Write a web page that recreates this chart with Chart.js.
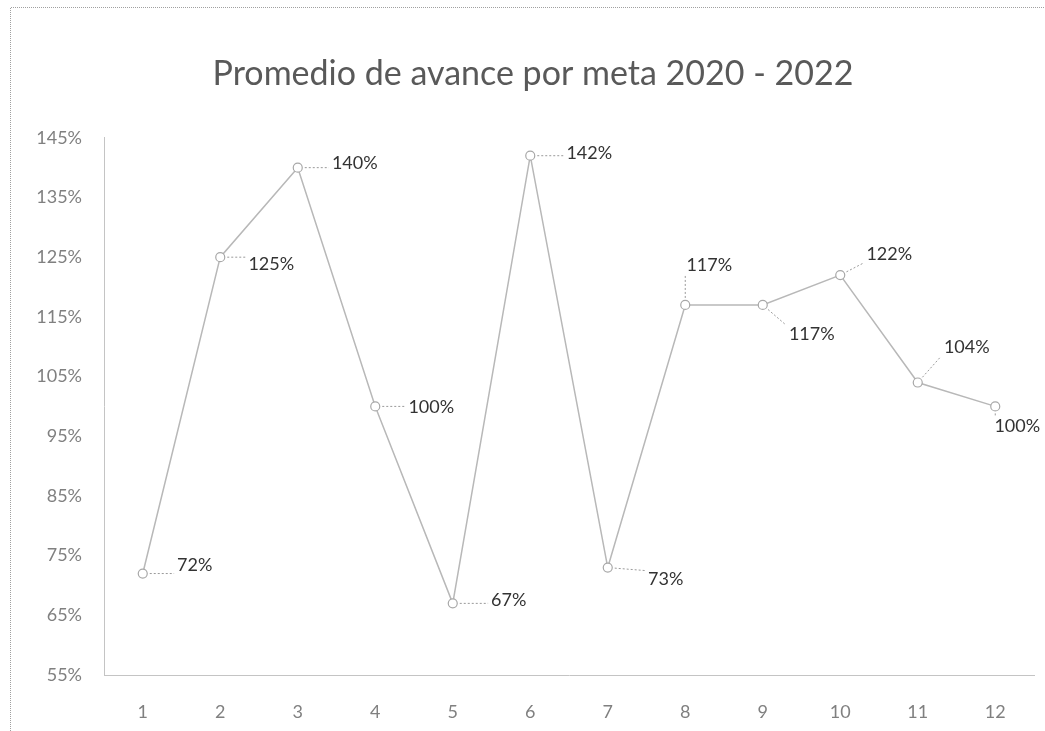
<!DOCTYPE html>
<html>
<head>
<meta charset="utf-8">
<script src="https://cdn.jsdelivr.net/npm/chart.js@4/dist/chart.umd.min.js"></script>
<style>
  html, body { margin: 0; padding: 0; background: #ffffff; }
  #wrap { width: 1045px; height: 731px; position: relative; }
</style>
</head>
<body>
<div id="wrap"><canvas id="c" width="1045" height="731"></canvas></div>
<script>
// ---- Data ----
const categories = ['1','2','3','4','5','6','7','8','9','10','11','12'];
const avance = [72, 125, 140, 100, 67, 142, 73, 117, 117, 122, 104, 100];
const yTicks = [55, 65, 75, 85, 95, 105, 115, 125, 135, 145];
const titleText = 'Promedio de avance por meta 2020 - 2022';

// label placement offsets (dx, dy) relative to each point, in pixels
const labelOffsets = [[52,-8],[51,7],[57,-4],[56,1],[56,-3],[59,-3],[58,12],[24,-40],[49,29],[49,-21],[49,-35],[22,20]];

const frame = {
  id: 'frame',
  beforeDraw(chart) {
    const ctx = chart.ctx;
    ctx.save();
    ctx.strokeStyle = '#a0a0a0';
    ctx.lineWidth = 1;
    ctx.setLineDash([1, 1]);
    ctx.beginPath();
    ctx.moveTo(10.5, 731); ctx.lineTo(10.5, 7.5); ctx.lineTo(1045, 7.5);
    ctx.stroke();
    ctx.restore();
  }
};

const dataLabels = {
  id: 'dataLabels',
  afterDatasetsDraw(chart) {
    const ctx = chart.ctx;
    const meta = chart.getDatasetMeta(0);
    ctx.save();
    ctx.font = '18px Lato, "DejaVu Sans", sans-serif';
    ctx.textAlign = 'center';
    ctx.textBaseline = 'middle';
    meta.data.forEach((pt, i) => {
      const v = chart.data.datasets[0].data[i];
      const txt = v + '%';
      const [dx, dy] = labelOffsets[i];
      const lx = pt.x + dx, ly = pt.y + dy;
      const w = ctx.measureText(txt).width + 6, h = 18;
      const bx = Math.max(lx - w/2, Math.min(pt.x, lx + w/2));
      const by = Math.max(ly - h/2, Math.min(pt.y, ly + h/2));
      const ddx = bx - pt.x, ddy = by - pt.y;
      const dist = Math.hypot(ddx, ddy);
      if (dist > 10) {
        const sx = pt.x + ddx / dist * 7, sy = pt.y + ddy / dist * 7;
        ctx.strokeStyle = '#9a9a9a';
        ctx.lineWidth = 1;
        ctx.setLineDash([2, 2]);
        ctx.beginPath();
        ctx.moveTo(sx, sy);
        ctx.lineTo(bx, by);
        ctx.stroke();
        ctx.setLineDash([]);
      }
      ctx.fillStyle = '#333333';
      ctx.fillText(txt, lx, ly);
    });
    ctx.restore();
  }
};

new Chart(document.getElementById('c'), {
  type: 'line',
  data: {
    labels: categories,
    datasets: [{
      data: avance,
      borderColor: '#b8b8b8',
      borderWidth: 1.5,
      pointStyle: 'circle',
      pointRadius: 4.5,
      pointBorderColor: '#a8a8a8',
      pointBackgroundColor: '#ffffff',
      pointBorderWidth: 1.2,
      tension: 0
    }]
  },
  options: {
    responsive: false,
    animation: false,
    layout: { padding: { left: 32, right: 11, top: 0, bottom: 0 } },
    plugins: {
      legend: { display: false },
      tooltip: { enabled: false },
      title: {
        display: true,
        text: titleText,
        color: '#595959',
        font: { family: 'Lato, "Open Sans", sans-serif', size: 34, weight: 'normal' },
        padding: { top: 54, bottom: 43 }
      }
    },
    scales: {
      x: {
        type: 'category',
        offset: true,
        grid: { display: false, drawTicks: false },
        border: { display: true, color: '#c4c4c4', dash: [1, 6] },
        ticks: { color: '#808080', padding: 26, font: { family: 'Lato, sans-serif', size: 18 } },
        afterFit(s) { s.height = 56; }
      },
      y: {
        min: 55, max: 145,
        afterBuildTicks(s) { s.ticks = yTicks.map(v => ({ value: v })); },
        grid: { display: false, drawTicks: false },
        border: { display: true, color: '#c4c4c4', dash: [1, 5] },
        ticks: {
          color: '#808080', padding: 22,
          font: { family: 'Lato, sans-serif', size: 18 },
          callback: v => v + '%'
        },
        afterFit(s) { s.width = 72; }
      }
    }
  },
  plugins: [frame, dataLabels]
});
</script>
</body>
</html>
